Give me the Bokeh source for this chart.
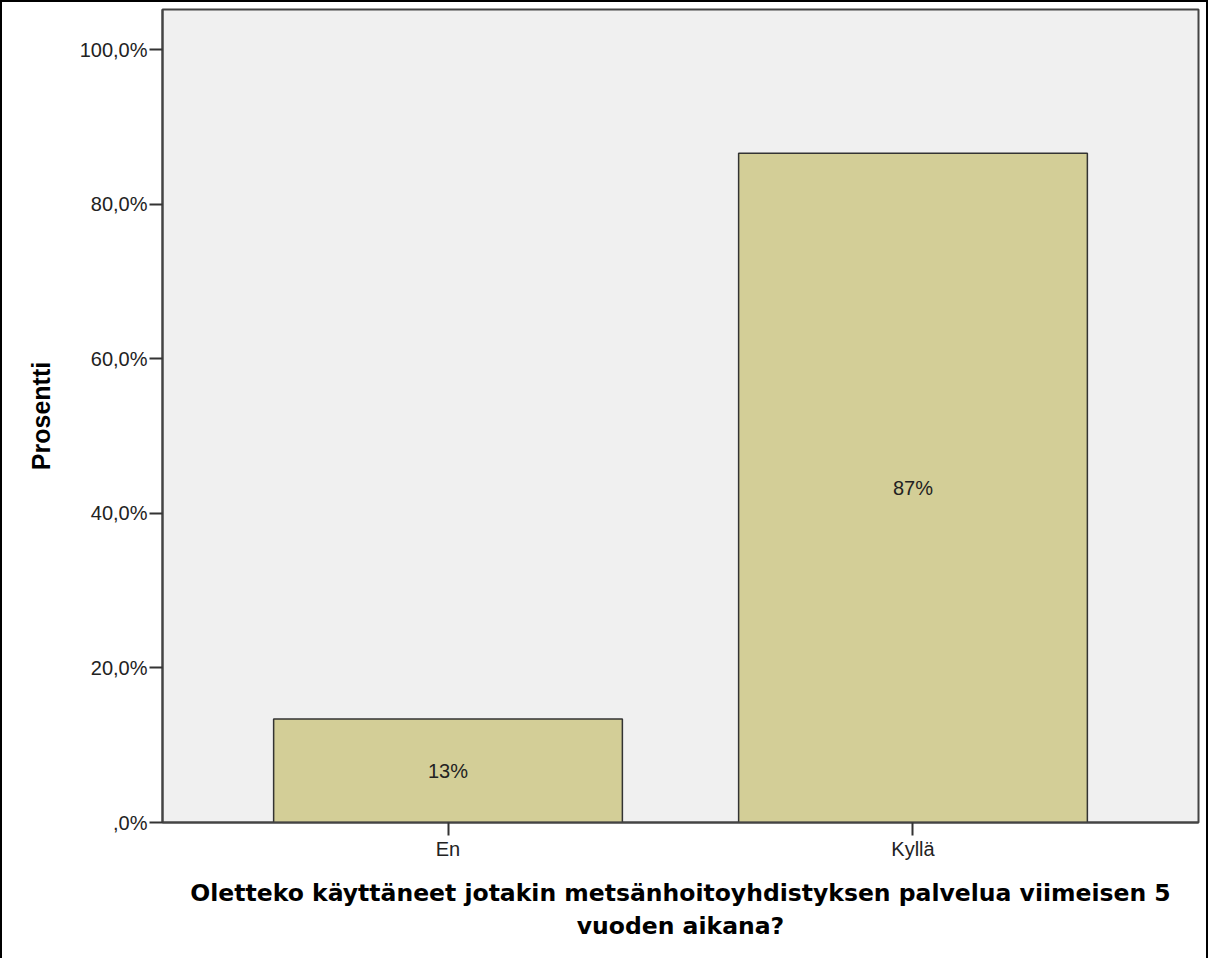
from bokeh.plotting import figure
from bokeh.models import ColumnDataSource, Range1d, FixedTicker
from bokeh.core.properties import value
from bokeh.embed import file_html
from bokeh.resources import INLINE

# ---- data ----
categories = ["En", "Kyllä"]
percent = [13.4, 86.6]
bar_labels = ["13%", "87%"]
y_tick_values = [0, 20, 40, 60, 80, 100]
y_tick_labels = [",0%", "20,0%", "40,0%", "60,0%", "80,0%", "100,0%"]
x_title = "Oletteko käyttäneet jotakin metsänhoitoyhdistyksen palvelua viimeisen 5\nvuoden aikana?"
y_title = "Prosentti"

xpos = [i + 1 for i in range(len(categories))]
src = ColumnDataSource(dict(x=xpos, top=percent, mid=[v / 2 for v in percent], lab=bar_labels))

p = figure(width=1208, height=958, output_backend="svg", toolbar_location=None,
           x_range=Range1d(0.386, 2.614), y_range=Range1d(0, 105.2),
           min_border_left=160, min_border_right=12, min_border_top=7, min_border_bottom=138,
           background_fill_color="#f0f0f0", border_fill_color="white",
           outline_line_color="#444444", outline_line_width=2)
p.styles = {"border-top": "2px solid black", "border-left": "2px solid black",
            "border-right": "2px solid black"}

p.vbar(x="x", top="top", bottom=0, width=0.75, source=src,
       fill_color="#d3ce97", line_color="#333333", line_width=1.5)
p.text(x="x", y="mid", text="lab", source=src, text_align="center", text_baseline="middle",
       text_font=value("Liberation Sans"), text_font_size="20px", text_color="#222222")

p.grid.visible = False

ya = p.yaxis[0]
ya.ticker = FixedTicker(ticks=y_tick_values)
ya.major_label_overrides = {v: l for v, l in zip(y_tick_values, y_tick_labels)}
ya.minor_tick_line_color = None
ya.major_tick_out = 13
ya.major_tick_in = 0
ya.major_tick_line_width = 2
ya.major_tick_line_color = "#333333"
ya.axis_line_color = "#444444"
ya.axis_line_width = 2
ya.major_label_text_font = "Liberation Sans"
ya.major_label_text_font_size = "20px"
ya.major_label_text_color = "#222222"
ya.major_label_standoff = 2
ya.axis_label = y_title
ya.axis_label_text_font = "Liberation Sans"
ya.axis_label_text_font_style = "bold"
ya.axis_label_text_font_size = "25px"
ya.axis_label_text_color = "#000000"
ya.axis_label_standoff = 22

xa = p.xaxis[0]
xa.ticker = FixedTicker(ticks=xpos)
xa.major_label_overrides = {x: c for x, c in zip(xpos, categories)}
xa.minor_tick_line_color = None
xa.major_tick_out = 13
xa.major_tick_in = 0
xa.major_tick_line_width = 2
xa.major_tick_line_color = "#333333"
xa.axis_line_color = "#444444"
xa.axis_line_width = 2
xa.major_label_text_font = "Liberation Sans"
xa.major_label_text_font_size = "20px"
xa.major_label_text_color = "#222222"
xa.major_label_standoff = 2
xa.axis_label = x_title
xa.axis_label_text_font = "DejaVu Sans"
xa.axis_label_text_font_style = "bold"
xa.axis_label_text_font_size = "23.5px"
xa.axis_label_text_color = "#000000"
xa.axis_label_standoff = 16

open("out.html", "w").write(file_html(p, INLINE))
